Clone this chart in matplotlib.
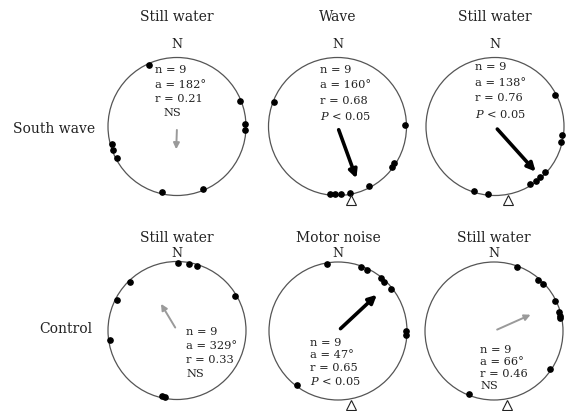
import numpy as np
import matplotlib
matplotlib.use("Agg")
import matplotlib.pyplot as plt
from matplotlib.patches import Circle

plt.rcParams['font.family'] = 'DejaVu Serif'
plt.rcParams['mathtext.fontset'] = 'dejavuserif'

# headings of individual fish (degrees, clockwise from N)
angles = [
    [336, 68, 88, 93, 157, 193, 242, 250, 255],      # south wave / still water
    [291, 89, 123, 127, 152, 169, 177, 182, 186],    # south wave / wave
    [62, 97, 103, 132, 138, 143, 149, 186, 198],     # south wave / still water
    [1, 10, 17, 59, 190, 193, 262, 297, 316],        # control / still water
    [351, 20, 25, 39, 43, 52, 90, 93, 217],          # control / motor noise
    [20, 41, 46, 64, 74, 77, 79, 124, 202],          # control / still water
]
n_fish = [9, 9, 9, 9, 9, 9]
mean_a = [182, 160, 138, 329, 47, 66]
mean_r = [0.21, 0.68, 0.76, 0.33, 0.65, 0.46]
signif = [False, True, True, False, True, False]
titles = ["Still water", "Wave", "Still water",
          "Still water", "Motor noise", "Still water"]
row_labels = ["South wave", "Control"]
stimulus = [False, True, True, False, True, True]

W, H = 567, 411
R = 69.0
fig = plt.figure(figsize=(W / 100, H / 100), dpi=100)

centers = [(177, 126.5), (337.5, 126.5), (495, 126.5),
           (177, 330.5), (338, 331), (494, 331)]
# text block offsets (px from centre: dx, first-line dy, line step)
text_pos = [(-22, -56.5, 14.5), (-17.5, -56.5, 15.5), (-20, -59.5, 15.5),
            (9, 1.5, 14), (-27.5, 11.5, 12.8), (-14, 18.5, 12)]
ns_dx = [-5, 0, 0, 9, 0, 3]
title_y = [17, 17, 17, 238, 238, 238]
n_y = [45, 45, 45, 253, 253, 253]
ink = '#222222'
fs_stat = 8.2
fs_head = 10

for i in range(6):
    cx, cy = centers[i]
    s = 1.3
    ax = fig.add_axes([(cx - s * R) / W, (H - cy - s * R) / H, 2 * s * R / W, 2 * s * R / H])
    ax.set_xlim(-s, s)
    ax.set_ylim(-s, s)
    ax.set_aspect('equal')
    ax.axis('off')

    ax.add_patch(Circle((0, 0), 1.0, fill=False, ec='#555555', lw=0.9))

    th = np.radians(angles[i])
    ax.plot(0.98 * np.sin(th), 0.98 * np.cos(th), 'o', color='black', ms=3.8, zorder=3)

    a = np.radians(mean_a[i])
    start = 0.05
    tip = mean_r[i] + 0.12
    col = 'black' if signif[i] else '#9a9a9a'
    lw = 2.6 if signif[i] else 1.4
    ax.annotate('', xy=(tip * np.sin(a), tip * np.cos(a)),
                xytext=(start * np.sin(a), start * np.cos(a)),
                arrowprops=dict(arrowstyle='-|>', color=col, lw=lw,
                                mutation_scale=12 if signif[i] else 9,
                                shrinkA=0, shrinkB=0))

    if stimulus[i]:
        ax.plot(0.19, -1.07, marker='^', ms=6.5, mfc='white', mec='#222222', mew=0.8,
                clip_on=False, zorder=4)

    dx, dy0, step = text_pos[i]
    lines = ["n = %d" % n_fish[i], "a = %d°" % mean_a[i], "r = %.2f" % mean_r[i]]
    for k, t in enumerate(lines):
        ax.text(dx / R, -(dy0 + k * step) / R, t, fontsize=fs_stat, color=ink,
                ha='left', va='center')
    ylast = -(dy0 + 3 * step) / R
    if signif[i]:
        ax.text(dx / R, ylast, r'$P$ < 0.05', fontsize=fs_stat, color=ink, ha='left', va='center')
    elif i == 0:
        ax.text(ns_dx[i] / R, ylast, 'NS', fontsize=fs_stat, color=ink, ha='center', va='center')
    else:
        ax.text(dx / R, ylast, 'NS', fontsize=fs_stat, color=ink, ha='left', va='center')

    fig.text(cx / W, 1 - title_y[i] / H, titles[i], fontsize=fs_head, color=ink,
             ha='center', va='center')
    fig.text(cx / W, 1 - n_y[i] / H, 'N', fontsize=9, color=ink, ha='center', va='center')

fig.text(54 / W, 1 - 129 / H, row_labels[0], fontsize=fs_head, color=ink, ha='center', va='center')
fig.text(66 / W, 1 - 329 / H, row_labels[1], fontsize=fs_head, color=ink, ha='center', va='center')

fig.savefig('out.png', dpi=100, facecolor='white')
